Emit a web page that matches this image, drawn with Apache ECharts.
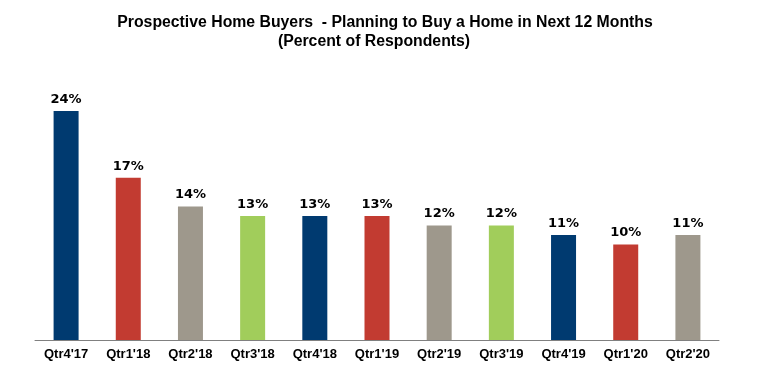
<!DOCTYPE html>
<html><head><meta charset="utf-8">
<script src="https://cdn.jsdelivr.net/npm/echarts@6/dist/echarts.min.js"></script>
<style>html,body{margin:0;padding:0;background:#fff}#c{width:768px;height:384px}</style>
</head><body><div id="c"></div>
<script>
const categories = ["Qtr4'17","Qtr1'18","Qtr2'18","Qtr3'18","Qtr4'18","Qtr1'19","Qtr2'19","Qtr3'19","Qtr4'19","Qtr1'20","Qtr2'20"];
const values = [24,17,14,13,13,13,12,12,11,10,11];
const barColors = ['#003A70','#C23B31','#9E988C','#A1CD5B'];
const titleLine1 = 'Prospective Home Buyers  - Planning to Buy a Home in Next 12 Months';
const titleLine2 = '(Percent of Respondents)';

const chart = echarts.init(document.getElementById('c'), null, {renderer:'canvas'});
chart.setOption({
  animation:false,
  backgroundColor:'#fff',
  title:[
    {text:titleLine1, left:380, top:10, textAlign:'center',
     textStyle:{fontFamily:'Liberation Sans, Arial', fontWeight:'bold', fontSize:15.8, color:'#000'}},
    {text:titleLine2, left:369, top:29, textAlign:'center',
     textStyle:{fontFamily:'Liberation Sans, Arial', fontWeight:'bold', fontSize:15.8, color:'#000'}}
  ],
  grid:{left:35, width:684, top:111, bottom:44, containLabel:false},
  xAxis:{type:'category', data:categories,
    axisLine:{lineStyle:{color:'#808080', width:1}},
    axisTick:{show:false},
    axisLabel:{interval:0, margin:8, color:'#000', fontFamily:'Liberation Sans Narrow, Liberation Sans, Arial', fontWeight:'bold', fontSize:13}},
  yAxis:{type:'value', min:0, max:24, show:false, splitLine:{show:false}},
  series:[{type:'bar', barWidth:25,
    data:values.map((v,i)=>({value:v, itemStyle:{color:barColors[i%4]}})),
    label:{show:true, position:'top', distance:5, formatter:'{c}%', color:'#000',
      fontFamily:'DejaVu Sans, Verdana', fontWeight:'bold', fontSize:13}}]
});
</script></body></html>
